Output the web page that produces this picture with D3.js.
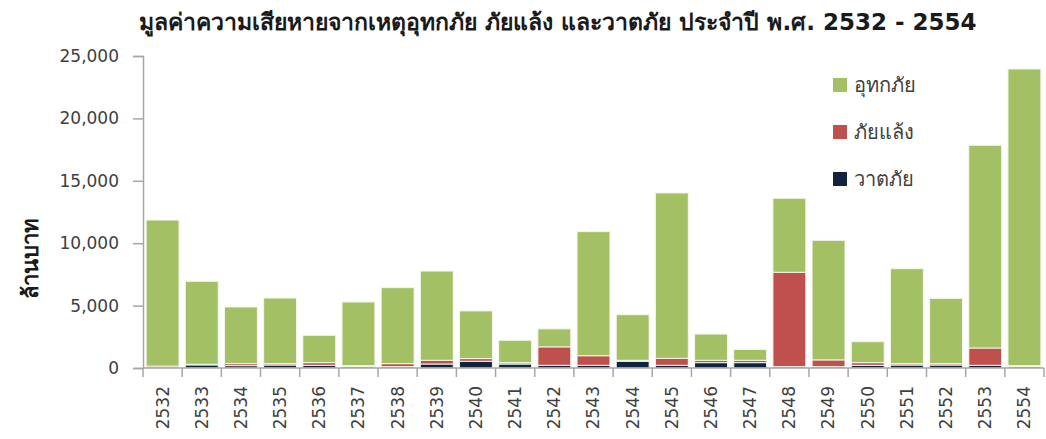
<!DOCTYPE html>
<html>
<head>
<meta charset="utf-8">
<script src="https://cdn.jsdelivr.net/npm/d3@7"></script>
<style>
  body { margin: 0; background: #fff; }
  svg { font-family: "DejaVu Sans", "Noto Sans", sans-serif; }
</style>
</head>
<body>
<script>
// years (พ.ศ.)
var years = ["2532","2533","2534","2535","2536","2537","2538","2539","2540","2541","2542",
             "2543","2544","2545","2546","2547","2548","2549","2550","2551","2552","2553","2554"];

// ล้านบาท
var storm   = [20, 250, 190, 240, 215, 110, 110, 320, 540, 320, 215, 215, 540, 215, 430, 430, 110, 110, 215, 240, 240, 215, 110];
var drought = [135, 50, 160, 110, 215, 80, 240, 300, 215, 110, 1480, 770, 80, 560, 190, 190, 7560, 540, 215, 110, 110, 1390, 80];
var flood   = [11700, 6650, 4540, 5260, 2190, 5100, 6090, 7150, 3820, 1790, 1440, 9940, 3650, 13250, 2100, 870, 5930, 9580, 1680, 7610, 5230, 16240, 23770];

var seriesNames = ["วาตภัย", "ภัยแล้ง", "อุทกภัย"];
var yTicks = [0, 5000, 10000, 15000, 20000, 25000];

var width = 1046, height = 439;
var margin = {top: 56, right: 2, bottom: 71, left: 143};

var svg = d3.select("body").append("svg")
    .attr("width", width)
    .attr("height", height);

//title
svg.append("text")
    .attr("x", 558)
    .attr("y", 30)
    .attr("text-anchor", "middle")
    .attr("font-size", 23)
    .attr("font-weight", "bold")
    .attr("fill", "#1a1a1a")
    .text("มูลค่าความเสียหายจากเหตุอุทกภัย ภัยแล้ง และวาตภัย ประจำปี พ.ศ. 2532 - 2554");

var x = d3.scaleBand()
    .domain(years)
    .range([margin.left, width - margin.right])
    .paddingInner(0.16)
    .paddingOuter(0.08);

var y = d3.scaleLinear()
    .domain([0, 25000])
    .range([height - margin.bottom, margin.top]);

var color = d3.scaleOrdinal()
    .domain(seriesNames)
    .range(["#10243f", "#c0504d", "#a3c064"]);

//build rows for stacking
var rows = years.map(function(yr, i) {
    return {year: yr, "วาตภัย": storm[i], "ภัยแล้ง": drought[i], "อุทกภัย": flood[i]};
});

var stack = d3.stack().keys(seriesNames)(rows);

svg.append("g")
    .selectAll("g")
    .data(stack)
    .enter()
    .append("g")
    .attr("fill", function(d) { return color(d.key); })
    .selectAll("rect")
    .data(function(d) { return d; })
    .enter()
    .append("rect")
    .attr("x", function(d) { return x(d.data.year); })
    .attr("y", function(d) { return y(d[1]); })
    .attr("width", x.bandwidth())
    .attr("height", function(d) { return y(d[0]) - y(d[1]); })
    .attr("stroke", "#f3f7ea")
    .attr("stroke-width", 1);

//y axis
var yAxis = svg.append("g")
    .attr("transform", "translate(" + margin.left + ",0)")
    .call(d3.axisLeft(y).tickValues(yTicks).tickSize(10).tickPadding(14)
        .tickFormat(d3.format(",")));
yAxis.selectAll("line, path").attr("stroke", "#a6a6a6").attr("stroke-width", 1.5);
yAxis.selectAll("text").attr("font-size", 17).attr("fill", "#404040")
    .attr("font-family", "DejaVu Sans, sans-serif");

//x axis with ticks between categories
var xAxisG = svg.append("g")
    .attr("transform", "translate(0," + y(0) + ")");
xAxisG.append("line")
    .attr("x1", margin.left).attr("x2", width - margin.right)
    .attr("stroke", "#a6a6a6").attr("stroke-width", 1.5);
var step = x.step();
var bounds = years.map(function(yr) { return x(yr) - x.paddingInner() * step / 2; });
bounds.push(width - margin.right);
xAxisG.selectAll(".xt")
    .data(bounds)
    .enter()
    .append("line")
    .attr("class", "xt")
    .attr("x1", function(d) { return d; })
    .attr("x2", function(d) { return d; })
    .attr("y1", 0).attr("y2", 9)
    .attr("stroke", "#a6a6a6").attr("stroke-width", 1.5);
xAxisG.selectAll(".xl")
    .data(years)
    .enter()
    .append("text")
    .attr("class", "xl")
    .attr("transform", function(d) {
        return "translate(" + (x(d) + x.bandwidth() / 2) + ",18) rotate(-90)";
    })
    .attr("dy", "0.35em")
    .attr("text-anchor", "end")
    .attr("font-size", 17)
    .attr("fill", "#404040")
    .text(function(d) { return d; });

//y axis title
svg.append("text")
    .attr("transform", "translate(30,258) rotate(-90)")
    .attr("text-anchor", "middle")
    .attr("dy", "0.35em")
    .attr("font-size", 22)
    .attr("font-weight", "bold")
    .attr("fill", "#1a1a1a")
    .text("ล้านบาท");

//legend
var legendItems = ["อุทกภัย", "ภัยแล้ง", "วาตภัย"];
var legend = svg.selectAll(".legend")
    .data(legendItems)
    .enter()
    .append("g")
    .attr("class", "legend")
    .attr("transform", function(d, i) { return "translate(833," + (78 + i * 47) + ")"; });
legend.append("rect")
    .attr("width", 14).attr("height", 14)
    .attr("fill", function(d) { return color(d); });
legend.append("text")
    .attr("x", 21)
    .attr("y", 7)
    .attr("dy", "0.35em")
    .attr("font-size", 20)
    .attr("fill", "#404040")
    .text(function(d) { return d; });
</script>
</body>
</html>
